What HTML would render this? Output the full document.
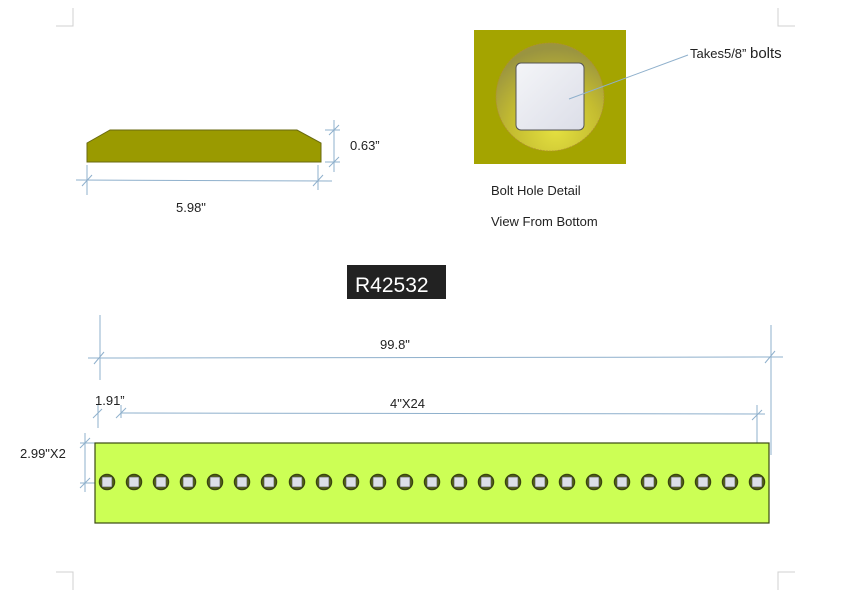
<!DOCTYPE html>
<html><head><meta charset="utf-8"><style>
html,body{margin:0;padding:0;background:#fff;}
svg{display:block;}
text{font-family:"Liberation Sans",sans-serif;}
</style></head><body>
<svg width="851" height="600" viewBox="0 0 851 600" xmlns="http://www.w3.org/2000/svg">
<defs>
<radialGradient id="ring" cx="0.55" cy="0.8" r="0.75">
<stop offset="0" stop-color="#e4e040"/><stop offset="0.55" stop-color="#c4bc30"/><stop offset="1" stop-color="#9a9440"/>
</radialGradient>
<linearGradient id="sq" x1="0" y1="0" x2="1" y2="1"><stop offset="0" stop-color="#f4f5f8"/><stop offset="1" stop-color="#dcdee8"/></linearGradient>
</defs>
<g stroke="#d0d0d0" stroke-width="1" fill="none">
<path d="M73 8 V26 H56"/><path d="M778 8 V26 H795"/>
<path d="M73 590 V572 H56"/><path d="M778 590 V572 H795"/>
</g>
<polygon points="87,143 110,130 297,130 321,143 321,162 87,162" fill="#9a9a00" stroke="#6a6a10" stroke-width="1"/>
<g stroke="#8fb0cc" stroke-width="1" fill="none">
<line x1="87" y1="165" x2="87" y2="195"/><line x1="318" y1="165" x2="318" y2="190"/>
<line x1="76" y1="180" x2="332" y2="181"/>
<line x1="82" y1="186" x2="92" y2="175"/><line x1="313" y1="186" x2="323" y2="175"/>
<line x1="325" y1="130" x2="340" y2="130"/><line x1="325" y1="162" x2="340" y2="162"/>
<line x1="334" y1="120" x2="334" y2="172"/>
<line x1="329" y1="135" x2="339" y2="125"/><line x1="329" y1="167" x2="339" y2="157"/>
</g>
<text x="350" y="150" font-size="13" fill="#222">0.63”</text>
<text x="176" y="212" font-size="13" fill="#222">5.98"</text>
<rect x="474" y="30" width="152" height="134" fill="#a4a400"/>
<circle cx="550" cy="97" r="54" fill="url(#ring)" stroke="#b09030" stroke-width="0.8" stroke-dasharray="2,1"/>
<rect x="516" y="63" width="68" height="67" rx="5" fill="url(#sq)" stroke="#555" stroke-width="1"/>
<line x1="569" y1="99" x2="688" y2="55" stroke="#8fb0cc" stroke-width="1"/>
<text x="690" y="58" font-size="13" fill="#222">Takes5/8”  <tspan font-size="15">bolts</tspan></text>
<text x="491" y="195" font-size="13" fill="#222">Bolt Hole Detail</text>
<text x="491" y="226" font-size="13" fill="#222">View From Bottom</text>
<rect x="347" y="265" width="99" height="34" fill="#222"/>
<text x="355" y="292" font-size="21" fill="#fff">R42532</text>
<g stroke="#8fb0cc" stroke-width="1" fill="none">
<line x1="100" y1="315" x2="100" y2="380"/><line x1="771" y1="325" x2="771" y2="455"/>
<line x1="88" y1="358" x2="783" y2="357"/>
<line x1="94" y1="364" x2="104" y2="352"/><line x1="765" y1="363" x2="775" y2="351"/>
<line x1="98" y1="405" x2="98" y2="428"/><line x1="121" y1="405" x2="121" y2="418"/>
<line x1="757" y1="405" x2="757" y2="475"/>
<line x1="121" y1="413" x2="765" y2="414"/>
<line x1="93" y1="418" x2="102" y2="409"/><line x1="116" y1="418" x2="126" y2="408"/><line x1="752" y1="420" x2="762" y2="410"/>
<line x1="85" y1="433" x2="85" y2="492"/>
<line x1="80" y1="443" x2="95" y2="443"/><line x1="80" y1="483" x2="98" y2="483"/>
<line x1="80" y1="448" x2="90" y2="438"/><line x1="80" y1="488" x2="90" y2="478"/>
</g>
<text x="380" y="349" font-size="13" fill="#222">99.8"</text>
<text x="95" y="405" font-size="13" fill="#222">1.91”</text>
<text x="390" y="408" font-size="13" fill="#222">4"X24</text>
<text x="20" y="458" font-size="13" fill="#222">2.99"X2</text>
<rect x="95" y="443" width="674" height="80" fill="#ccff55" stroke="#3a4a10" stroke-width="1.2"/>
<g fill="#5a6a18" stroke="#3a4410" stroke-width="1.5">
<circle cx="107" cy="482" r="7.5"/><circle cx="134" cy="482" r="7.5"/><circle cx="161" cy="482" r="7.5"/><circle cx="188" cy="482" r="7.5"/><circle cx="215" cy="482" r="7.5"/><circle cx="242" cy="482" r="7.5"/><circle cx="269" cy="482" r="7.5"/><circle cx="297" cy="482" r="7.5"/><circle cx="324" cy="482" r="7.5"/><circle cx="351" cy="482" r="7.5"/><circle cx="378" cy="482" r="7.5"/><circle cx="405" cy="482" r="7.5"/><circle cx="432" cy="482" r="7.5"/><circle cx="459" cy="482" r="7.5"/><circle cx="486" cy="482" r="7.5"/><circle cx="513" cy="482" r="7.5"/><circle cx="540" cy="482" r="7.5"/><circle cx="567" cy="482" r="7.5"/><circle cx="594" cy="482" r="7.5"/><circle cx="622" cy="482" r="7.5"/><circle cx="649" cy="482" r="7.5"/><circle cx="676" cy="482" r="7.5"/><circle cx="703" cy="482" r="7.5"/><circle cx="730" cy="482" r="7.5"/><circle cx="757" cy="482" r="7.5"/>
</g>
<g fill="#dcdfe8" stroke="#444" stroke-width="0.6">
<rect x="102" y="477" width="10" height="10"/><rect x="129" y="477" width="10" height="10"/><rect x="156" y="477" width="10" height="10"/><rect x="183" y="477" width="10" height="10"/><rect x="210" y="477" width="10" height="10"/><rect x="237" y="477" width="10" height="10"/><rect x="264" y="477" width="10" height="10"/><rect x="292" y="477" width="10" height="10"/><rect x="319" y="477" width="10" height="10"/><rect x="346" y="477" width="10" height="10"/><rect x="373" y="477" width="10" height="10"/><rect x="400" y="477" width="10" height="10"/><rect x="427" y="477" width="10" height="10"/><rect x="454" y="477" width="10" height="10"/><rect x="481" y="477" width="10" height="10"/><rect x="508" y="477" width="10" height="10"/><rect x="535" y="477" width="10" height="10"/><rect x="562" y="477" width="10" height="10"/><rect x="589" y="477" width="10" height="10"/><rect x="617" y="477" width="10" height="10"/><rect x="644" y="477" width="10" height="10"/><rect x="671" y="477" width="10" height="10"/><rect x="698" y="477" width="10" height="10"/><rect x="725" y="477" width="10" height="10"/><rect x="752" y="477" width="10" height="10"/>
</g>
</svg>
</body></html>
